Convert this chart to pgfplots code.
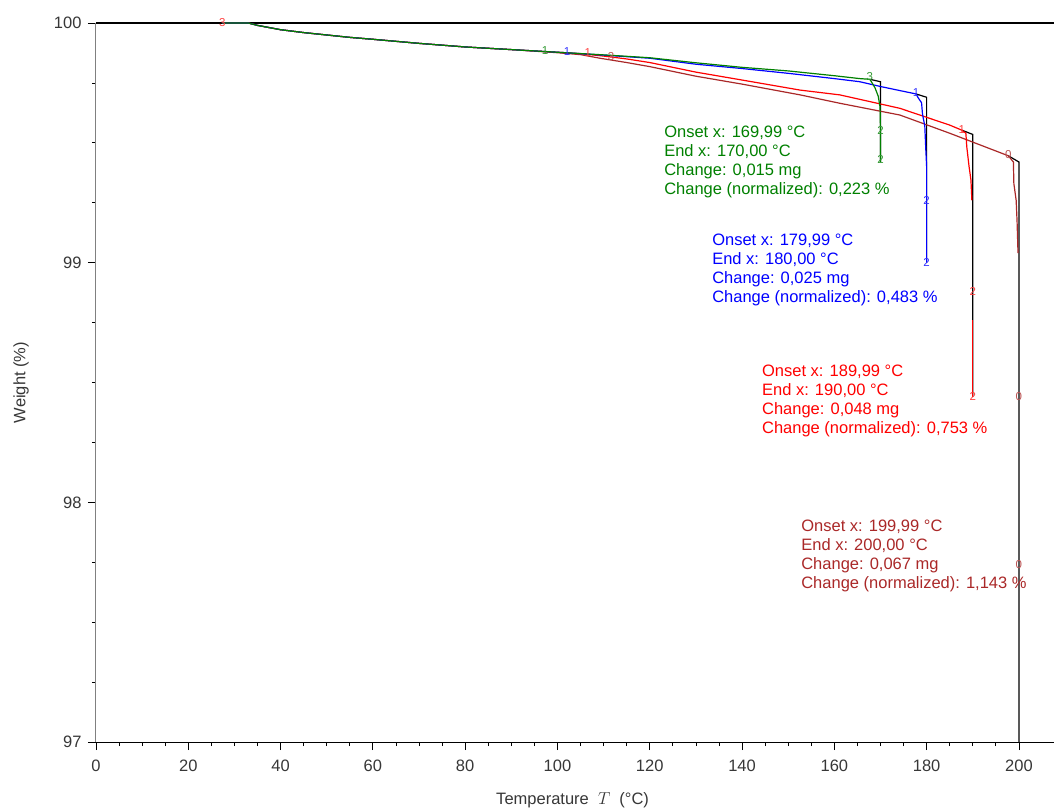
\documentclass[border=0pt]{standalone}
\usepackage{fontspec}
\setmainfont{Liberation Sans}
\usepackage{pgfplots}
\pgfplotsset{compat=1.18}
\definecolor{cgreen}{RGB}{0,128,0}
\definecolor{cblue}{RGB}{0,0,255}
\definecolor{cred}{RGB}{255,0,0}
\definecolor{cbrown}{RGB}{170,40,40}
\definecolor{ticktext}{RGB}{55,55,55}
\newcommand{\fs}{\fontsize{16.5pt}{19pt}\selectfont}
\newcommand{\fd}{\fontsize{11.5pt}{11.5pt}\selectfont}
\begin{document}
\begin{tikzpicture}
\begin{axis}[
  scale only axis, width=958pt, height=719pt,
  xmin=0, xmax=207.6, ymin=97, ymax=100,
  axis x line=bottom, axis y line=left,
  axis line style={-},
  x axis line style={black, line width=1pt},
  y axis line style={gray, line width=1pt},
  xtick={0,20,...,200}, ytick={97,98,99,100},
  minor x tick num=3, minor y tick num=3,
  tick align=outside, major tick length=8pt, minor tick length=4pt,
  tick style={black, line width=0.8pt},
  ticklabel style={font=\fs, text=ticktext},
  xticklabel style={yshift=-6pt},
  yticklabel style={xshift=-3pt},
  /pgf/number format/assume math mode=true,
  xlabel={Temperature\ \ $T$\ \ (°C)},
  ylabel={Weight (\%)},
  label style={font=\fs, text=ticktext},
  xlabel style={at={(axis description cs:0.4975,-0.0807)}, anchor=center},
  ylabel style={at={(axis description cs:-0.0783,0.5)}, anchor=center},
  clip=false,
]
% reference line at 100 %
\addplot[black, line width=1.1pt] coordinates {(0,100) (207.6,100)};
% black step lines
\addplot[black, line width=1.2pt] coordinates {(167.7,99.765) (170,99.755) (170,99.42)};
\addplot[black, line width=1.2pt] coordinates {(177.7,99.704) (180,99.69) (180,99.0)};
\addplot[black, line width=1.2pt] coordinates {(187.6,99.553) (190,99.535) (190,98.44)};
\addplot[black, line width=1.2pt] coordinates {(197.7,99.446) (200,99.42) (200,97.0)};
% brown curve
\addplot[cbrown, line width=1.2pt] coordinates {
(27.4,100) (33,100) (35,99.99) (40,99.972) (45,99.96) (50,99.95) (55,99.94) (60,99.932) (70,99.915) (80,99.90) (90,99.889) (100,99.876)
(105,99.868) (109.2,99.853) (115,99.835) (120,99.818) (130,99.778) (140,99.745) (152.6,99.70) (161.2,99.665) (174.2,99.616) (185,99.54) (197.7,99.446) (198.8,99.42) (198.9,99.33) (199.4,99.26) (199.6,99.17) (199.8,99.04)};
% red curve
\addplot[cred, line width=1.2pt] coordinates {
(27.4,100) (33,100) (35,99.99) (40,99.972) (45,99.96) (50,99.95) (55,99.94) (60,99.932) (70,99.915) (80,99.90) (90,99.889) (100,99.878)
(105,99.872) (110,99.862) (115,99.85) (120,99.835) (130,99.795) (140,99.762) (152.6,99.72) (161.2,99.70) (174.2,99.644) (185,99.574) (187.6,99.553) (188.5,99.54) (188.7,99.483) (189.2,99.40) (189.6,99.345) (189.8,99.26)};
\addplot[cred, line width=1.2pt] coordinates {(190,98.76) (190,98.44)};
% blue curve
\addplot[cblue, line width=1.2pt] coordinates {
(27.4,100) (33,100) (35,99.99) (40,99.972) (45,99.96) (50,99.95) (55,99.94) (60,99.932) (70,99.915) (80,99.90) (90,99.889) (100,99.878)
(110,99.866) (120,99.853) (130,99.828) (140,99.81) (150,99.79) (160,99.768) (165.5,99.755) (170,99.735) (174.2,99.718) (177.7,99.704) (178.1,99.69) (178.9,99.667) (179.1,99.62) (179.6,99.57) (179.8,99.48) (180,99.40) (180,99.0)};
% green curve
\addplot[cgreen, line width=1.2pt] coordinates {
(27.4,100) (33,100) (35,99.99) (40,99.972) (45,99.96) (50,99.95) (55,99.94) (60,99.932) (70,99.915) (80,99.90) (90,99.889) (100,99.878)
(110,99.867) (120,99.855) (130,99.834) (140,99.815) (150,99.80) (160,99.78) (165.5,99.768) (167.7,99.765) (168.8,99.73) (169.5,99.695) (169.9,99.65) (170,99.55) (170,99.42)};
% small digit markers
\addplot[draw=none, nodes near coords, point meta=explicit symbolic,
  nodes near coords style={anchor=center, font=\fd, text=cgreen!80}]
  coordinates {(97.3,99.885)[1] (167.7,99.775)[3] (170,99.55)[2] (170,99.43)[2]};
\addplot[draw=none, nodes near coords, point meta=explicit symbolic,
  nodes near coords style={anchor=center, font=\fd, text=cblue!80}]
  coordinates {(102.1,99.879)[1] (177.7,99.708)[1] (180,99.26)[2] (180,99.0)[2]};
\addplot[draw=none, nodes near coords, point meta=explicit symbolic,
  nodes near coords style={anchor=center, font=\fd, text=cred!75}]
  coordinates {(27.4,100)[3] (106.6,99.875)[1] (187.6,99.557)[1] (190,98.88)[2] (190,98.44)[2]};
\addplot[draw=none, nodes near coords, point meta=explicit symbolic,
  nodes near coords style={anchor=center, font=\fd, text=cbrown!80}]
  coordinates {(111.6,99.858)[3] (197.7,99.45)[0] (200,98.44)[0] (200,97.74)[0]};
% annotations
\node[anchor=west, align=left, inner sep=0pt, text=cgreen, font=\fs] at (axis cs:123.1,99.421)
  {Onset x: 169,99 °C\\End x: 170,00 °C\\Change: 0,015 mg\\Change (normalized): 0,223 \%};
\node[anchor=west, align=left, inner sep=0pt, text=cblue, font=\fs] at (axis cs:133.5,98.969)
  {Onset x: 179,99 °C\\End x: 180,00 °C\\Change: 0,025 mg\\Change (normalized): 0,483 \%};
\node[anchor=west, align=left, inner sep=0pt, text=cred, font=\fs] at (axis cs:144.3,98.423)
  {Onset x: 189,99 °C\\End x: 190,00 °C\\Change: 0,048 mg\\Change (normalized): 0,753 \%};
\node[anchor=west, align=left, inner sep=0pt, text=cbrown, font=\fs] at (axis cs:152.8,97.776)
  {Onset x: 199,99 °C\\End x: 200,00 °C\\Change: 0,067 mg\\Change (normalized): 1,143 \%};
\end{axis}
\pgfresetboundingbox
\path[use as bounding box] ([xshift=-96pt,yshift=-69pt]current axis.south west) rectangle ([yshift=23pt]current axis.north east);
\end{tikzpicture}
\end{document}
